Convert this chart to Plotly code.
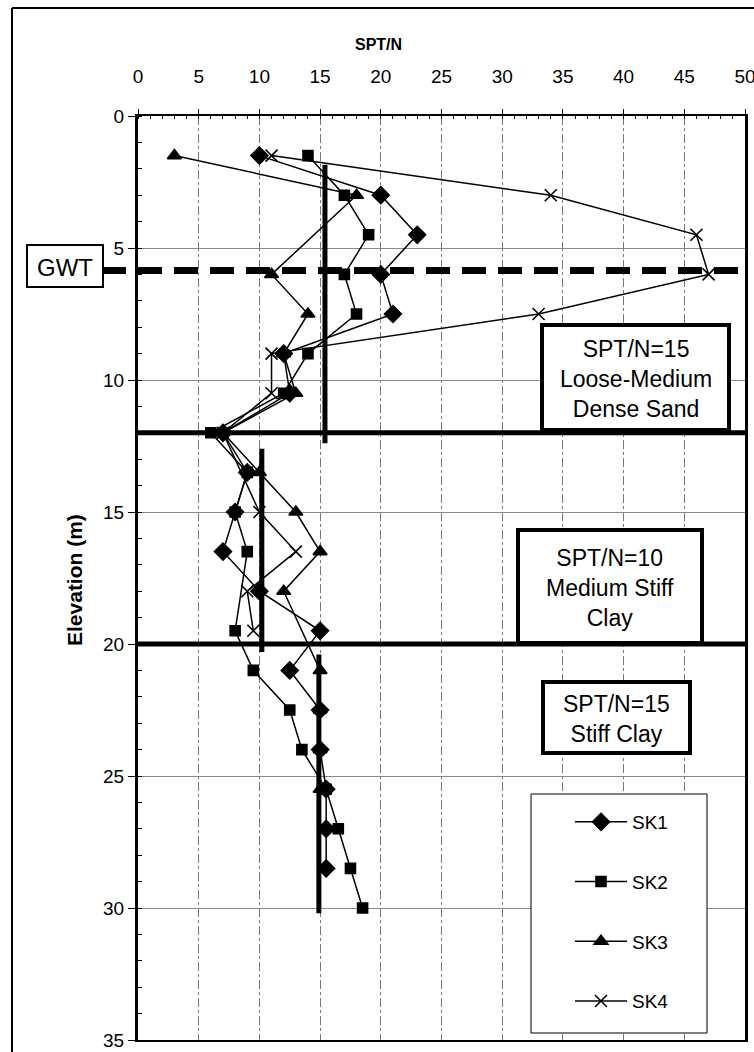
import plotly.graph_objects as go

# ---------------- data ----------------
depth = [1.5, 3, 4.5, 6, 7.5, 9, 10.5, 12, 13.5, 15, 16.5, 18, 19.5, 21, 22.5, 24, 25.5, 27, 28.5, 30]
sk1 = [10, 20, 23, 20, 21, 12, 12.5, 7, 9, 8, 7, 10, 15, 12.5, 15, 15, 15.5, 15.5, 15.5, None]
sk2 = [14, 17, 19, 17, 18, 14, 12, 6, 9, 8, 9, None, 8, 9.5, 12.5, 13.5, 15.5, 16.5, 17.5, 18.5]
sk3 = [3, 18, None, 11, 14, 12, 13, 7, 10, 13, 15, 12, None, 15, 15, 15, 15, None, None, None]
sk4 = [11, 34, 46, 47, 33, 11, 11, 7, None, 10, 13, 9, 9.5, None, None, None, None, None, None, None]

series_names = ["SK1", "SK2", "SK3", "SK4"]
series_symbols = ["diamond", "square", "triangle-up", "x-thin-open"]

# representative SPT/N per layer
layer_n = [15.4, 10.2, 14.9]
layer_top = [1.85, 12.6, 20.4]
layer_bottom = [12.4, 20.3, 30.2]
layer_labels = ["SPT/N=15<br>Loose-Medium<br>Dense Sand",
                "SPT/N=10<br>Medium Stiff<br>Clay",
                "SPT/N=15<br>Stiff Clay"]
boundaries = [12, 20]
gwt_depth = 5.85

x_range = [0, 50]
y_range = [35, 0]

# ---------------- geometry ----------------
W, H = 754, 1052
L, T, R, B = 138, 116, 9, 12
PW, PH = W - L - R, H - T - B
FONT = "Liberation Sans, Arial, sans-serif"


def xp(px):
    return (px - L) / PW


def yp(py):
    return 1 - (py - T) / PH


fig = go.Figure()

# layer boundaries
for b in boundaries:
    fig.add_trace(go.Scatter(x=x_range, y=[b, b], mode="lines",
                             line=dict(color="black", width=5),
                             showlegend=False, hoverinfo="skip"))

# representative N lines
for n, t0, t1 in zip(layer_n, layer_top, layer_bottom):
    fig.add_trace(go.Scatter(x=[n, n], y=[t0, t1], mode="lines",
                             line=dict(color="black", width=5),
                             showlegend=False, hoverinfo="skip"))

# data series
for name, vals, sym in zip(series_names, [sk1, sk2, sk3, sk4], series_symbols):
    size = {"diamond": 13, "square": 10, "triangle-up": 12, "x-thin-open": 12}[sym]
    fig.add_trace(go.Scatter(
        x=vals, y=depth, name=name, mode="lines+markers", connectgaps=True,
        line=dict(color="black", width=1.5),
        marker=dict(symbol=sym, size=size, color="black",
                    line=dict(color="black", width=1.6)),
        legendgroup=name,
    ))

shapes = []
# outer frame
shapes.append(dict(type="line", xref="paper", yref="paper", x0=xp(12), x1=xp(12),
                   y0=yp(8), y1=yp(1060), line=dict(color="black", width=2)))
shapes.append(dict(type="line", xref="paper", yref="paper", x0=xp(12), x1=xp(760),
                   y0=yp(8), y1=yp(8), line=dict(color="black", width=2)))
# GWT dashed line
shapes.append(dict(type="line", xref="paper", yref="y", x0=xp(102), x1=1,
                   y0=gwt_depth, y1=gwt_depth,
                   line=dict(color="black", width=7, dash="24px,12px")))
# GWT box
shapes.append(dict(type="rect", xref="paper", yref="paper", x0=xp(27), x1=xp(103),
                   y0=yp(245), y1=yp(287), fillcolor="white",
                   line=dict(color="black", width=2)))
# layer text boxes
box_px = [(542, 729, 325, 430), (518, 702, 530, 643), (543, 690, 682, 753)]
for (x0, x1, y0, y1) in box_px:
    shapes.append(dict(type="rect", xref="paper", yref="paper", x0=xp(x0), x1=xp(x1),
                       y0=yp(y0), y1=yp(y1), fillcolor="white",
                       line=dict(color="black", width=4)))
# legend frame
shapes.append(dict(type="rect", xref="paper", yref="paper", x0=xp(531), x1=xp(707),
                   y0=yp(794), y1=yp(1033), fillcolor="white",
                   line=dict(color="black", width=1)))

annotations = []
annotations.append(dict(text="<b>SPT/N</b>", xref="paper", yref="paper",
                        x=xp(378), y=yp(45), xanchor="center", yanchor="middle",
                        showarrow=False,
                        font=dict(size=16, family=FONT, color="black")))
annotations.append(dict(text="<b>Elevation (m)</b>", xref="paper", yref="paper",
                        x=xp(74), y=yp(580), xanchor="center", yanchor="middle",
                        showarrow=False, textangle=-90,
                        font=dict(size=21, family=FONT, color="black")))
annotations.append(dict(text="GWT", xref="paper", yref="paper",
                        x=xp(65), y=yp(267), xanchor="center", yanchor="middle",
                        showarrow=False,
                        font=dict(size=24, family=FONT, color="black")))
for (x0, x1, y0, y1), txt in zip(box_px, layer_labels):
    annotations.append(dict(text=txt, xref="paper", yref="paper",
                            x=xp((x0 + x1) / 2), y=yp((y0 + y1) / 2 + 1),
                            xanchor="center", yanchor="middle",
                            showarrow=False, align="center",
                            font=dict(size=23, family=FONT, color="black")))

fig.update_layout(
    width=W, height=H,
    margin=dict(l=L, r=R, t=T, b=B, autoexpand=False),
    paper_bgcolor="white", plot_bgcolor="white",
    font=dict(family=FONT, color="black"),
    shapes=shapes, annotations=annotations,
    showlegend=True,
    legend=dict(x=xp(570), y=yp(803), xanchor="left", yanchor="top",
                bgcolor="rgba(0,0,0,0)", borderwidth=0,
                font=dict(size=19, family=FONT, color="black"),
                itemwidth=52, tracegroupgap=32, traceorder="grouped"),
    xaxis=dict(side="top", range=x_range, dtick=5, tick0=0,
               tickfont=dict(size=19, family=FONT), ticklabelstandoff=18,
               ticklabeloverflow="allow",
               showgrid=True, gridcolor="#777", gridwidth=1, griddash="dashdot",
               zeroline=False, showline=True, linecolor="black", linewidth=2,
               mirror=True, ticks="outside", ticklen=5, tickcolor="black",
               minor=dict(dtick=1, ticks="inside", ticklen=3, tickcolor="black", showgrid=False)),
    yaxis=dict(range=y_range, dtick=5, tick0=0,
               tickfont=dict(size=19, family=FONT),
               ticklabeloverflow="allow",
               showgrid=True, gridcolor="#888", gridwidth=1,
               zeroline=False, showline=True, linecolor="black", linewidth=3,
               mirror=True, ticks="outside", ticklen=7, tickcolor="black",
               minor=dict(dtick=1, ticks="inside", ticklen=4, tickcolor="black", showgrid=False)),
)

fig.write_html("out.html", config={"displayModeBar": False},
               post_script="document.body.style.margin='0px';")
